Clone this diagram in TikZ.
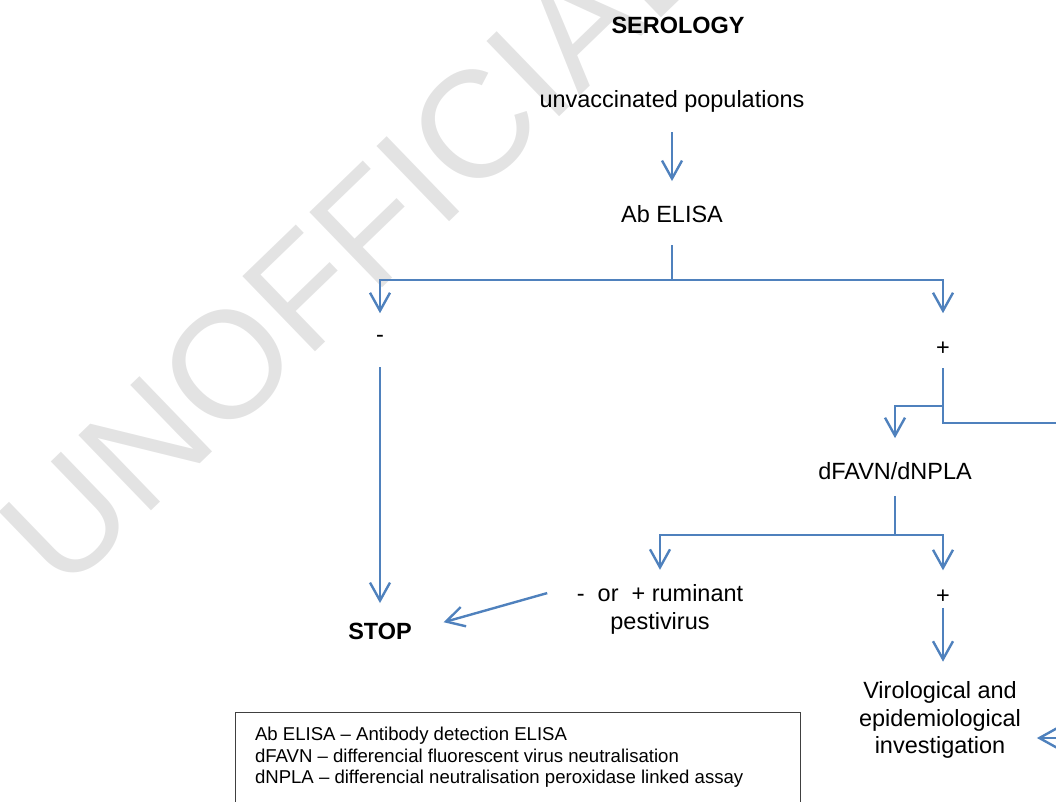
\documentclass[tikz,border=0pt]{standalone}
\usepackage{fontspec}
\setmainfont{Liberation Sans}
\usetikzlibrary{arrows.meta}
\definecolor{flow}{RGB}{79,129,189}
\definecolor{wm}{RGB}{227,227,227}
\definecolor{boxline}{RGB}{64,64,64}
\begin{document}
\begin{tikzpicture}[x=0.75pt,y=-0.75pt,
  txt/.style={inner sep=0pt, outer sep=0pt, align=center, font=\fontsize{17.6pt}{20.6pt}\selectfont},
  txtb/.style={txt, font=\fontsize{17.6pt}{20.6pt}\selectfont\bfseries},
  flowline/.style={draw=flow, line width=1.8pt},
  arr/.style={flowline, -{Straight Barb[length=13.5pt,width=15pt]}},
  legendtxt/.style={inner sep=0pt, outer sep=0pt, align=left, font=\fontsize{13.94pt}{16pt}\selectfont},
  watermark/.style={inner sep=0pt, text=wm, font=\fontsize{114pt}{114pt}\selectfont}
]
\useasboundingbox (0,0) rectangle (1056,801);

% watermark
\node[watermark, rotate=44] (wmark) at (352,244) {UNOFFICIAL};

% text nodes (multi-line nodes: base = baseline of last line)
\node[txtb, anchor=base] (serology) at (678,33.3) {SEROLOGY};
\node[txt, anchor=base] (unvacc) at (672,107.3) {unvaccinated populations};
\node[txt, anchor=base] (abelisa) at (672,222.7) {Ab ELISA};
\node[txt, anchor=base] (minus1) at (380,342.5) {-};
\node[txt, anchor=base] (plus1) at (943,355) {+};
\node[txtb, anchor=base] (stop) at (380,639.3) {STOP};
\node[txt, anchor=base] (dfavn) at (895,479) {dFAVN/dNPLA};
\node[txt, anchor=base] (rumin) at (660,629.2) {-\ \ or\ \ + ruminant\\pestivirus};
\node[txt, anchor=base] (plus2) at (943,603.3) {+};
\node[txt, anchor=base] (virol) at (940,753.5) {Virological and\\epidemiological\\investigation};

% junctions
\coordinate (j1) at (672,280);
\coordinate (j2) at (943,422.7);
\coordinate (j3) at (943,406);
\coordinate (rt1) at (1062,422.7);
\coordinate (j4) at (895,535);
\coordinate (rt2) at (1062,738);

% connectors
\draw[arr, shorten <=14.9pt, shorten >=18.5pt] (unvacc.south) -- (abelisa.north);
\draw[flowline, shorten <=16.7pt] (abelisa.south) -- (j1);
\draw[arr, shorten >=16.6pt] (j1) -| (minus1.north);
\draw[arr, shorten >=21.2pt] (j1) -| (plus1.north);
\draw[arr, shorten <=18.4pt, shorten >=14.9pt] (minus1.south) -- (stop.north);
\draw[flowline, shorten <=9.75pt] (plus1.south) -- (j2) -- (rt1);
\draw[arr, shorten >=17.9pt] (j3) -| (dfavn.north);
\draw[flowline, shorten <=12.4pt] (dfavn.south) -- (j4);
\draw[arr, shorten >=11.2pt] (j4) -| (rumin.north);
\draw[arr, shorten >=14.6pt] (j4) -| (plus2.north);
\draw[arr, shorten <=3.5pt, shorten >=14.9pt] (plus2.south) -- (plus2.south |- virol.north);
\draw[arr, shorten <=23.1pt, shorten >=24.9pt] (rumin.north west) -- (stop.east);
\draw[arr, shorten >=12pt] (rt2) -- (rt2 -| virol.east);

% legend
\draw[draw=boxline, line width=0.75pt] (235,712) rectangle (800,830);
\node[legendtxt, anchor=base west] (legend) at (255,783.4)
  {Ab ELISA \textendash{} Antibody detection ELISA\\
   dFAVN \textendash{} differencial fluorescent virus neutralisation\\
   dNPLA \textendash{} differencial neutralisation peroxidase linked assay};
\end{tikzpicture}
\end{document}
